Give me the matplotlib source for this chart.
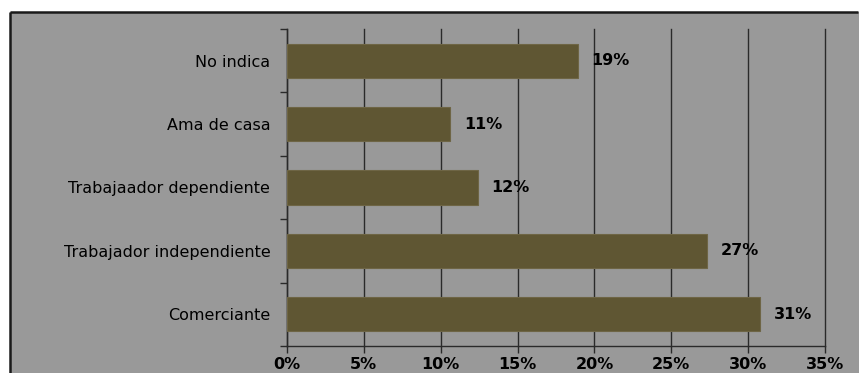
import numpy as np
import matplotlib
matplotlib.use("Agg")
import matplotlib.pyplot as plt
from matplotlib.patches import Rectangle
from matplotlib.lines import Line2D
from matplotlib.ticker import FixedLocator, PercentFormatter

categories = ['Comerciante', 'Trabajador independiente', 'Trabajaador dependiente',
              'Ama de casa', 'No indica']
values = [30.8, 27.3, 12.4, 10.6, 18.9]
labels = ['31%', '27%', '12%', '11%', '19%']
xticks = [0, 5, 10, 15, 20, 25, 30, 35]

plt.rcParams['font.family'] = ['DejaVu Sans']

fig = plt.figure(figsize=(8.59, 3.73), dpi=100, facecolor='white')

# gray chart area, border only on left and top (rest is cut off)
x0, y0 = 10 / 859, 1 - 12 / 373
fig.patches.append(Rectangle((x0, 0), 1 - x0, y0, transform=fig.transFigure,
                             facecolor='#999999', edgecolor='none', zorder=-5))
fig.lines.append(Line2D([x0, x0], [0.001, y0], transform=fig.transFigure,
                        color='#1a1a1a', linewidth=1.8, solid_capstyle='butt', zorder=-4))
fig.lines.append(Line2D([x0, 0.999], [y0, y0], transform=fig.transFigure,
                        color='#1a1a1a', linewidth=1.8, solid_capstyle='butt', zorder=-4))

ax = fig.add_axes([287 / 859, 1 - 346 / 373, (825 - 287) / 859, (346 - 29) / 373])
ax.set_facecolor('none')

y = np.arange(len(categories))
ax.barh(y, values, height=0.54, color='#5f5633', edgecolor='#6e6545', linewidth=0.8, zorder=3)

for yi, v, lab in zip(y, values, labels):
    ax.annotate(lab, (v, yi), xytext=(10, 0), textcoords='offset points',
                ha='left', va='center', fontsize=11.5, fontweight='bold', color='black')

ax.set_xlim(0, 35)
ax.set_ylim(-0.5, len(categories) - 0.5)
ax.set_xticks(xticks)
ax.xaxis.set_major_formatter(PercentFormatter(decimals=0))
ax.grid(axis='x', color='#2a2a2a', linewidth=1.0, zorder=1)
for gl in ax.get_xgridlines():
    gl.set_clip_on(False)
ax.set_axisbelow(True)

ax.set_yticks(y)
ax.set_yticklabels(categories, fontsize=11.5)
ax.yaxis.set_minor_locator(FixedLocator(np.arange(-0.5, len(categories), 1.0)))
ax.tick_params(axis='y', which='major', length=0, pad=12)
ax.tick_params(axis='y', which='minor', length=5, width=1, color='#2a2a2a', direction='out')
ax.tick_params(axis='x', length=5, width=1, color='#2a2a2a', direction='out', pad=3,
               labelsize=11.5)
for t in ax.get_xticklabels():
    t.set_fontweight('bold')

for s in ['top', 'right']:
    ax.spines[s].set_visible(False)
for s in ['left', 'bottom']:
    ax.spines[s].set_color('#2a2a2a')
    ax.spines[s].set_linewidth(1.0)

fig.savefig('out.png', dpi=100, facecolor='white')
